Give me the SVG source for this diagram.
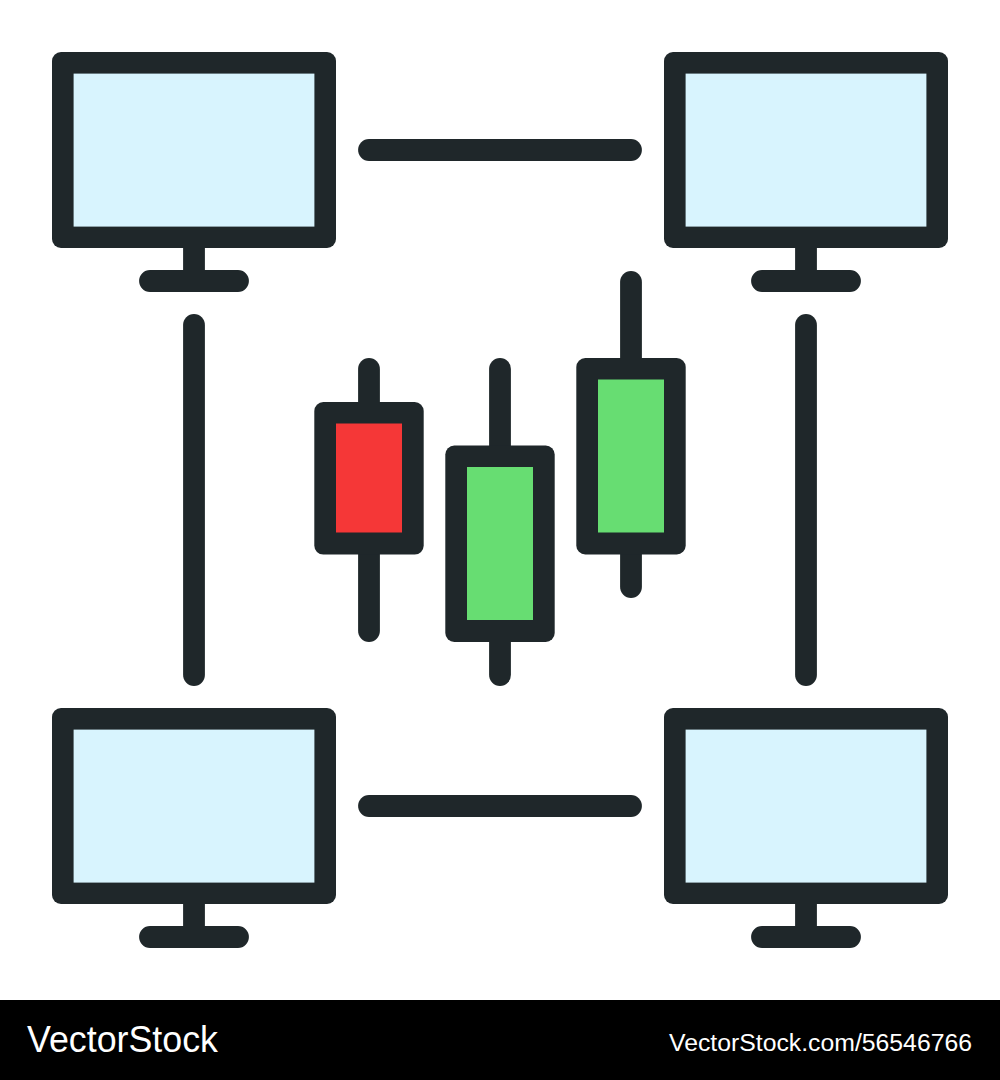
<svg xmlns="http://www.w3.org/2000/svg" xmlns:xlink="http://www.w3.org/1999/xlink" width="1000" height="1080" viewBox="0 0 1000 1080">
<style>
.o{fill:#1f272a}
.s{fill:#d8f4fe}
.r{fill:#f53737}
.g{fill:#67dd72}
.l{fill:none;stroke:#1f272a;stroke-width:21.8;stroke-linecap:round}
.t{fill:#fff;font-family:"Liberation Sans",Arial,sans-serif}
</style>
<defs>
<g id="monitor">
<path class="l" d="M0 196V229M-44 229H44"/>
<rect class="o" x="-142" y="0" width="284" height="196" rx="9"/>
<rect class="s" x="-120.4" y="21.6" width="240.8" height="153"/>
</g>
</defs>
<rect width="1000" height="1080" fill="#fff"/>
<g id="connectors">
<path class="l" d="M369 150H631"/>
<path class="l" d="M369 806H631"/>
<path class="l" d="M194 325V675"/>
<path class="l" d="M806 325V675"/>
</g>
<g id="monitor-top-left"><use xlink:href="#monitor" href="#monitor" x="194" y="52"/></g>
<g id="monitor-top-right"><use xlink:href="#monitor" href="#monitor" x="806" y="52"/></g>
<g id="monitor-bottom-left"><use xlink:href="#monitor" href="#monitor" x="194" y="708"/></g>
<g id="monitor-bottom-right"><use xlink:href="#monitor" href="#monitor" x="806" y="708"/></g>
<g id="candle-red">
<path class="l" d="M369 369V631"/>
<rect class="o" x="314.3" y="402" width="109.4" height="152.6" rx="9"/>
<rect class="r" x="336" y="423.5" width="66" height="109"/>
</g>
<g id="candle-green-middle">
<path class="l" d="M500 369V675"/>
<rect class="o" x="445.3" y="445.5" width="109.4" height="196.5" rx="9"/>
<rect class="g" x="467" y="467" width="66" height="153"/>
</g>
<g id="candle-green-right">
<path class="l" d="M631 282V587"/>
<rect class="o" x="576.3" y="358" width="109.4" height="196.5" rx="9"/>
<rect class="g" x="598" y="379.5" width="66" height="153"/>
</g>
<g id="footer">
<rect x="0" y="1000" width="1000" height="80" fill="#000"/>
<text class="t" x="27" y="1051.5" font-size="36" textLength="191" lengthAdjust="spacingAndGlyphs">VectorStock</text>
<text class="t" x="669" y="1051" font-size="23.5" textLength="303" lengthAdjust="spacingAndGlyphs">VectorStock.com/56546766</text>
</g>
</svg>
